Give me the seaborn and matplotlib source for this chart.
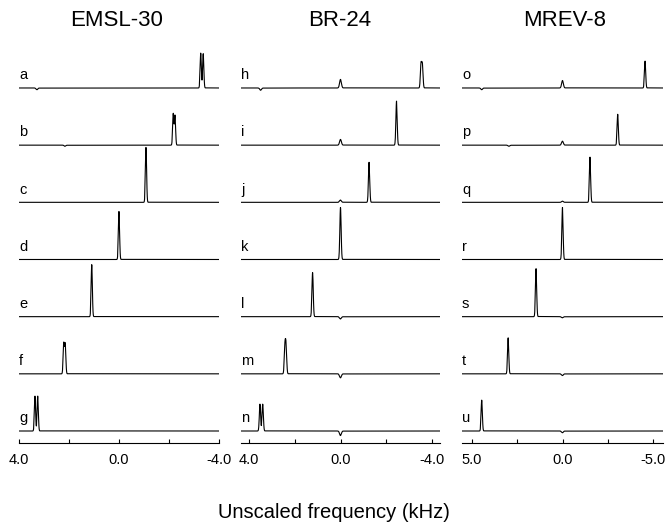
import numpy as np
import pandas as pd
import matplotlib
matplotlib.use("Agg")
import matplotlib.pyplot as plt
import matplotlib.transforms as mtransforms
import seaborn as sns

# ---------------- data ----------------
methods = ["EMSL-30", "BR-24", "MREV-8"]
row_labels_emsl = list("abcdefg")
row_labels_br = list("hijklmn")
row_labels_mrev = list("opqrstu")

# main peak positions (kHz) and heights (in units of row spacing)
emsl_pos = [[-3.27, -3.37], [-2.17, -2.24], [-1.08], [0.0], [1.09], [2.21, 2.15], [3.36, 3.25]]
emsl_hgt = [[0.61, 0.60], [0.55, 0.52], [0.96], [0.84], [0.91], [0.53, 0.52], [0.61, 0.61]]
br_pos = [[-3.52, -3.58], [-2.45], [-1.25], [0.0], [1.22], [2.43, 2.38], [3.52, 3.40]]
br_hgt = [[0.41, 0.40], [0.77], [0.70], [0.91], [0.77], [0.46, 0.46], [0.47, 0.47]]
mrev_pos = [[-4.56], [-3.05], [-1.52], [0.0], [1.46], [3.0], [4.46]]
mrev_hgt = [[0.47], [0.54], [0.79], [0.91], [0.84], [0.63], [0.54]]

# small artefacts: (row index, position kHz, height)
emsl_art = [(0, 3.28, -0.03), (1, 2.16, -0.02)]
br_art = [(0, 0.0, 0.15), (0, 3.49, -0.04), (1, 0.0, 0.10), (2, 0.0, 0.04),
          (4, 0.0, -0.04), (5, 0.0, -0.07), (6, 0.0, -0.08)]
mrev_art = [(0, 0.0, 0.13), (0, 4.46, -0.03), (1, 0.0, 0.07), (1, 2.95, -0.02),
            (2, 0.0, 0.02), (4, 0.0, -0.02), (5, 0.0, -0.03), (6, 0.0, -0.03)]

# axis settings
xlims = [(4.0, -4.0), (4.35, -4.35), (5.55, -5.55)]
tick_vals = [[4, 2, 0, -2, -4], [4, 2, 0, -2, -4], [5, 2.5, 0, -2.5, -5]]
tick_text = [["4.0", "", "0.0", "", "-4.0"], ["4.0", "", "0.0", "", "-4.0"],
             ["5.0", "", "0.0", "", "-5.0"]]
widths = [0.024, 0.028, 0.034]

columns = [
    (row_labels_emsl, emsl_pos, emsl_hgt, emsl_art),
    (row_labels_br, br_pos, br_hgt, br_art),
    (row_labels_mrev, mrev_pos, mrev_hgt, mrev_art),
]

# ---------------- figure ----------------
sns.set_theme(style="white")
plt.rcParams["font.family"] = ["Liberation Sans", "DejaVu Sans"]

W, H = 669, 527
fig = plt.figure(figsize=(W / 100, H / 100), dpi=100)

ax_px = [(19, 200), (241, 199), (462, 201)]
top_px, bot_px = 40, 443
row_sp = 57.17
ylim = (-(bot_px - 431) / row_sp, (431 - top_px) / row_sp)
title_x = [117, 340, 565]

for c, (labels, pos, hgt, art) in enumerate(columns):
    left, wid = ax_px[c]
    ax = fig.add_axes([left / W, 1 - bot_px / H, wid / W, (bot_px - top_px) / H])
    x = np.linspace(xlims[c][1], xlims[c][0], 8001)
    s = widths[c]
    frames = []
    for r in range(7):
        offset = 6 - r
        y = np.zeros_like(x)
        for p, h in zip(pos[r], hgt[r]):
            y += h * np.exp(-0.5 * ((x - p) / s) ** 2)
        for (ri, p, h) in art:
            if ri == r:
                y += h * np.exp(-0.5 * ((x - p) / (1.4 * s)) ** 2)
        frames.append(pd.DataFrame({"freq": x, "signal": y + offset, "row": labels[r]}))
    df = pd.concat(frames, ignore_index=True)
    sns.lineplot(data=df, x="freq", y="signal", units="row", estimator=None,
                 color="black", linewidth=0.8, ax=ax, legend=False)
    ax.set_xlim(*xlims[c])
    ax.set_ylim(*ylim)
    ax.set_xlabel("")
    ax.set_ylabel("")
    ax.set_yticks([])
    ax.set_xticks(tick_vals[c])
    ax.set_xticklabels(tick_text[c])
    for sp in ["top", "left", "right"]:
        ax.spines[sp].set_visible(False)
    ax.spines["bottom"].set_color("black")
    ax.spines["bottom"].set_linewidth(0.8)
    ax.tick_params(axis="x", direction="in", length=3, width=0.8, color="black",
                   labelsize=10.5, pad=7, labelcolor="black", bottom=True)
    ax.set_facecolor("none")
    trans = mtransforms.blended_transform_factory(ax.transAxes, ax.transData)
    for r in range(7):
        ax.text(0.0, 6 - r + 0.1, labels[r], transform=trans, ha="left", va="bottom",
                fontsize=10.5, color="black")
    fig.text(title_x[c] / W, 1 - 20 / H, methods[c], ha="center", va="center",
             fontsize=16, color="black")

fig.text(334 / W, 1 - 512 / H, "Unscaled frequency (kHz)", ha="center", va="center",
         fontsize=14.5, color="black")

fig.savefig("out.png", dpi=100)
